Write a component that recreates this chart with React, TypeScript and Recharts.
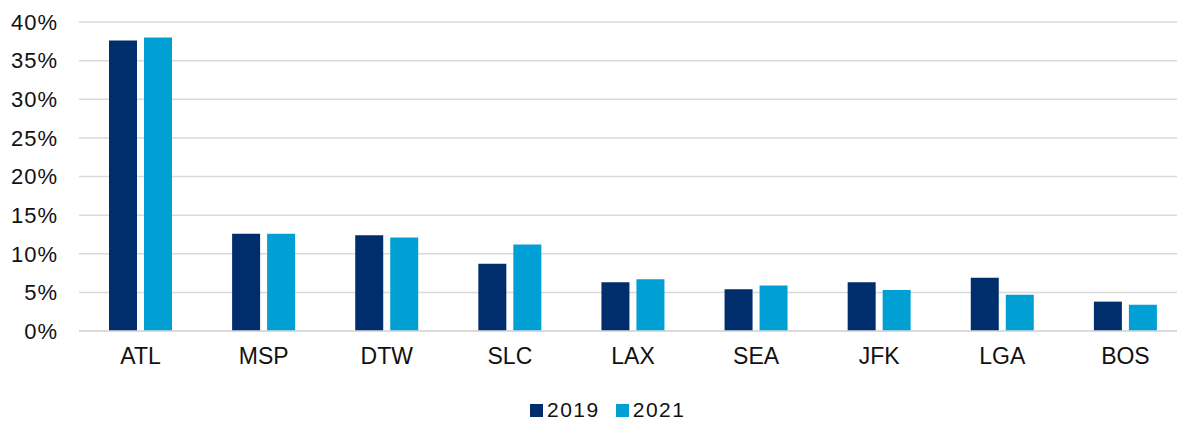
import React from "react";
import { BarChart, Bar, XAxis, YAxis, CartesianGrid, Legend } from "recharts";

const categories = ["ATL", "MSP", "DTW", "SLC", "LAX", "SEA", "JFK", "LGA", "BOS"];
const values2019 = [37.6, 12.6, 12.4, 8.7, 6.3, 5.4, 6.3, 6.9, 3.8];
const values2021 = [38.0, 12.6, 12.1, 11.2, 6.7, 5.9, 5.3, 4.7, 3.4];
const yTicks = [0, 5, 10, 15, 20, 25, 30, 35, 40];

const data = categories.map((c, i) => ({ name: c, y2019: values2019[i], y2021: values2021[i] }));

const COLOR_2019 = "#002D6B";
const COLOR_2021 = "#009FD4";
const FONT = "'Liberation Sans', Arial, sans-serif";
const TEXT = "#111";

const legendItems: [string, string][] = [["2019", COLOR_2019], ["2021", COLOR_2021]];

const LegendContent = () => (
  <div style={{ position: "relative", height: 24, fontFamily: FONT, fontSize: 21, color: TEXT }}>
    <div style={{ position: "absolute", left: 530, top: 0, display: "flex", alignItems: "center", height: 24 }}>
      {legendItems.map(([label, color], i) => (
        <div key={label} style={{ display: "flex", alignItems: "center", marginRight: i === 0 ? 16 : 0 }}>
          <div style={{ width: 13, height: 13, background: color, marginRight: 4 }} />
          <span style={{ letterSpacing: 1.5 }}>{label}</span>
        </div>
      ))}
    </div>
  </div>
);

export default function App() {
  return (
    <div style={{ position: "absolute", left: 0, top: 0, background: "#fff" }}>
      <BarChart
        width={1177}
        height={421}
        data={data}
        margin={{ top: 22, right: -10, bottom: 26, left: 0 }}
        barGap={7}
        barSize={28}
      >
        <CartesianGrid vertical={false} stroke="#d9d9d9" strokeWidth={1.5} />
        <XAxis
          dataKey="name"
          height={40}
          tickLine={false}
          tickSize={0}
          tickMargin={17}
          axisLine={{ stroke: "#d9d9d9", strokeWidth: 1.5 }}
          tick={{ fill: TEXT, fontSize: 23, fontFamily: FONT }}
        />
        <YAxis
          width={79}
          domain={[0, 40]}
          ticks={yTicks}
          interval={0}
          tickLine={false}
          tickSize={0}
          tickMargin={21}
          axisLine={false}
          tickFormatter={(v) => `${v}%`}
          tick={{ fill: TEXT, fontSize: 22, fontFamily: FONT, letterSpacing: 1 }}
        />
        <Legend
          verticalAlign="bottom"
          content={LegendContent}
          wrapperStyle={{ top: 398, left: 0, bottom: "auto", width: 1177 }}
        />
        <Bar dataKey="y2019" name="2019" fill={COLOR_2019} isAnimationActive={false} />
        <Bar dataKey="y2021" name="2021" fill={COLOR_2021} isAnimationActive={false} />
      </BarChart>
    </div>
  );
}
